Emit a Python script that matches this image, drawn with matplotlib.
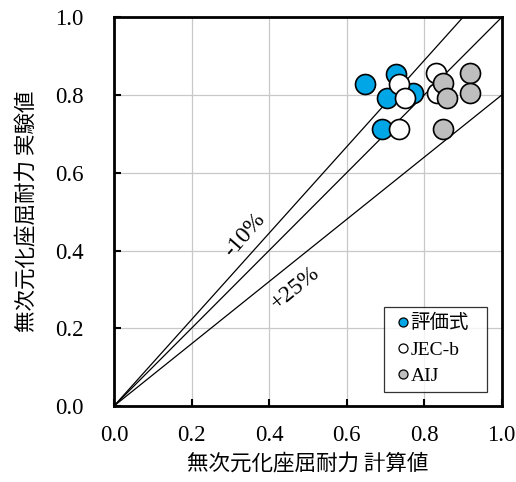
import matplotlib
matplotlib.use("Agg")
import matplotlib.pyplot as plt
from matplotlib.lines import Line2D
import numpy as np

# Dimensionless buckling strength: calculated (x) vs. experimental (y)
eval_x = [0.648, 0.728, 0.704, 0.772, 0.691]
eval_y = [0.828, 0.854, 0.792, 0.805, 0.713]
jec_x = [0.736, 0.831, 0.751, 0.833, 0.736]
jec_y = [0.828, 0.856, 0.792, 0.805, 0.712]
aij_x = [0.918, 0.848, 0.858, 0.918, 0.848]
aij_y = [0.856, 0.830, 0.792, 0.806, 0.713]

series_labels = ["評価式", "JEC-b", "AIJ"]
series_colors = ["#00A6E6", "#FFFFFF", "#BEBEBE"]

# Reference lines y = k * x
ref_slopes = [1 / 0.9, 1.0, 1 / 1.25]
ticks = [0.0, 0.2, 0.4, 0.6, 0.8, 1.0]
tick_labels = ["0.0", "0.2", "0.4", "0.6", "0.8", "1.0"]

serif = ["Liberation Serif", "Noto Sans CJK JP"]
cjk = ["Noto Sans CJK JP", "DejaVu Sans"]

fig = plt.figure(figsize=(5.16, 4.82), dpi=100)
ax = fig.add_axes([0.2209, 0.1577, 0.7512, 0.8062])

ax.set_xlim(0, 1)
ax.set_ylim(0, 1)

for v in ticks[1:-1]:
    ax.axvline(v, color="#C8C8C8", lw=0.9, zorder=0)
    ax.axhline(v, color="#C8C8C8", lw=0.9, zorder=0)

xs = np.array([0.0, 1.0])
for k in ref_slopes:
    ax.plot(xs, k * xs, color="black", lw=0.9, zorder=1)

ax.text(0.338, 0.44, "-10%", rotation=49, ha="center", va="center",
        fontsize=17, family=serif, zorder=2)
ax.text(0.467, 0.304, "+25%", rotation=39, ha="center", va="center",
        fontsize=17, family=serif, zorder=2)

for xv, yv, c in zip([eval_x, jec_x, aij_x], [eval_y, jec_y, aij_y], series_colors):
    ax.plot(xv, yv, "o", ls="none", ms=14.4, mfc=c, mec="black", mew=1.2,
            zorder=3)

# Legend uses smaller proxy markers, box stretched to a fixed width
proxies = [Line2D([], [], marker="o", ls="none", ms=6.5, mfc=c, mec="black", mew=0.9)
           for c in series_colors]
leg = ax.legend(proxies, series_labels, loc="lower left", mode="expand",
                bbox_to_anchor=(0.697, 0.036, 0.265, 0.214),
                frameon=True, fancybox=False, edgecolor="black",
                prop={"family": serif, "size": 14}, handletextpad=-0.2,
                handlelength=1.2, borderpad=0.35, labelspacing=0.45,
                borderaxespad=0.0)
leg.get_frame().set_linewidth(0.9)
leg.set_zorder(5)

ax.set_xticks(ticks)
ax.set_yticks(ticks)
ax.set_xticklabels(tick_labels, family=serif, fontsize=16.5)
ax.set_yticklabels(tick_labels, family=serif, fontsize=16.5)
ax.tick_params(axis="x", direction="in", length=5, width=1.5, pad=14)
ax.tick_params(axis="y", direction="in", length=5, width=1.5, pad=22)

for s in ax.spines.values():
    s.set_linewidth(2.0)

ax.set_xlabel("無次元化座屈耐力 計算値", family=cjk, fontsize=15.5, labelpad=5)
ax.set_ylabel("無次元化座屈耐力 実験値", family=cjk, fontsize=15.5, labelpad=12)

fig.savefig("out.png", dpi=100)
